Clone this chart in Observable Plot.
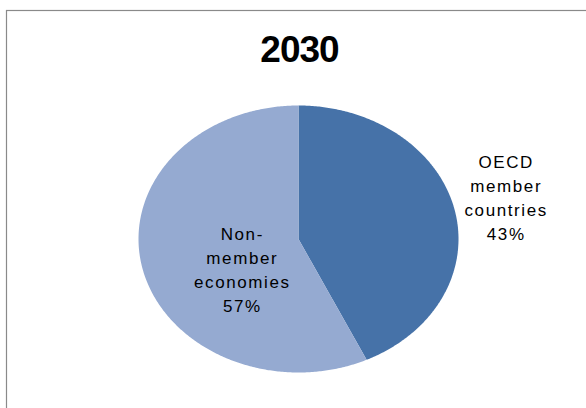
<!DOCTYPE html>
<html><head><meta charset="utf-8">
<script src="https://cdn.jsdelivr.net/npm/d3@7"></script>
<script src="https://cdn.jsdelivr.net/npm/@observablehq/plot@0.6"></script>
<style>
body{margin:0;background:#fff} svg{display:block}
</style>
</head><body><div id="chart"></div>
<script>
const title = "2030";
const categories = ["OECD member countries", "Non-member economies"];
const labelLines = ["OECD\nmember\ncountries", "Non-\nmember\neconomies"];
const values = [43, 57];
const colors = ["#4672A8", "#95AAD1"];

// label placement (chart layout, not data)
const labelPlace = [{r: 1.33, dx: 0, dy: -4}, {r: 0.36, dx: 0, dy: 19}];

const arcs = d3.pie().sort(null).value(d => d)(values);
const slices = [];
const labelRows = [];
arcs.forEach((p, i) => {
  const n = Math.max(2, Math.ceil((p.endAngle - p.startAngle) / 0.01));
  slices.push({cat: categories[i], x: 0, y: 0});
  for (let k = 0; k <= n; k++) {
    const a = p.startAngle + (p.endAngle - p.startAngle) * k / n;
    slices.push({cat: categories[i], x: Math.sin(a), y: Math.cos(a)});
  }
  const m = (p.startAngle + p.endAngle) / 2;
  const lp = labelPlace[i];
  labelRows.push({
    cat: categories[i],
    text: labelLines[i] + "\n" + values[i] + "%",
    x: lp.r * Math.sin(m),
    y: lp.r * Math.cos(m),
    dx: lp.dx, dy: lp.dy
  });
});

const font = "'Liberation Sans', Arial, sans-serif";

const chart = Plot.plot({
  width: 586,
  height: 408,
  margin: 0,
  style: {fontFamily: font, background: "#fff"},
  x: {domain: [-1, 1], range: [138, 458], axis: null},
  y: {domain: [-1, 1], range: [372, 105], axis: null},
  color: {domain: categories, range: colors},
  marks: [
    Plot.frame({stroke: "#8a8a8a", strokeWidth: 1.2, insetLeft: 6, insetTop: 10, insetRight: -5, insetBottom: -5}),
    Plot.line(slices, {x: "x", y: "y", z: "cat", fill: "cat", stroke: "none", curve: "linear"}),
    Plot.text([title], {frameAnchor: "top", dx: 6, dy: 50, lineAnchor: "middle", fontSize: 37, fontWeight: "bold", fill: "#000"}),
    ...labelRows.map(d => Plot.text([d], {
      x: "x", y: "y", text: "text", dx: d.dx, dy: d.dy,
      fontSize: 17, lineHeight: 1.42, lineAnchor: "middle", textAnchor: "middle",
      fill: "#000"
    }))
  ]
});
// typographic tweaks to match the reference rendering
d3.select(chart).selectAll("g[font-size='17']").style("letter-spacing", "1.6px");
d3.select(chart).selectAll("g[font-size='37']").style("letter-spacing", "-1px");
document.getElementById("chart").appendChild(chart);
</script>
</body></html>
